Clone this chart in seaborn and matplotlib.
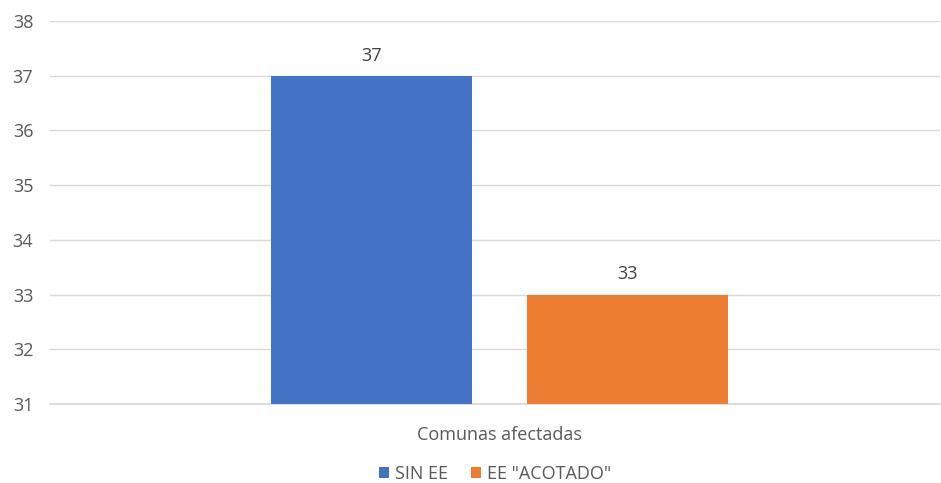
import pandas as pd
import matplotlib
matplotlib.use("Agg")
import matplotlib.pyplot as plt
import seaborn as sns

# datos del gráfico
categorias = ["Comunas afectadas"]
series = ["SIN EE", 'EE "ACOTADO"']
valores = [37, 33]
colores = ["#4472C4", "#ED7D31"]
y_ticks = [31, 32, 33, 34, 35, 36, 37, 38]

df = pd.DataFrame({
    "categoria": categorias * len(series),
    "serie": series,
    "valor": valores,
})

sns.set_theme(style="white")
plt.rcParams["font.family"] = ["Open Sans", "DejaVu Sans"]

fig = plt.figure(figsize=(9.41, 4.83), dpi=100)
ax = fig.add_axes([50 / 941, 79 / 483, 890 / 941, 383 / 483])

sns.barplot(data=df, x="categoria", y="valor", hue="serie", palette=colores,
            saturation=1, width=0.575, gap=0.215, linewidth=0, ax=ax, zorder=3)

ax.set_ylim(y_ticks[0], y_ticks[-1])
ax.set_xlim(-0.505, 0.495)
ax.set_yticks(y_ticks)
ax.yaxis.grid(True, color="#D9D9D9", linewidth=1, zorder=0)
for s in ["top", "right", "left"]:
    ax.spines[s].set_visible(False)
ax.spines["bottom"].set_color("#D9D9D9")
ax.tick_params(axis="both", length=0, labelsize=13, colors="#595959")
ax.tick_params(axis="y", pad=12)
ax.tick_params(axis="x", pad=16)
ax.set_xlabel("")
ax.set_ylabel("")

for cont in ax.containers:
    ax.bar_label(cont, fmt="%d", padding=8, fontsize=13, color="#404040")

ax.legend(loc="center", bbox_to_anchor=(0.5, -0.183), ncol=2, frameon=False,
          fontsize=13, handlelength=0.55, handleheight=0.55, handletextpad=0.3,
          columnspacing=1.3, labelcolor="#595959")

fig.savefig("out.png", dpi=100)
